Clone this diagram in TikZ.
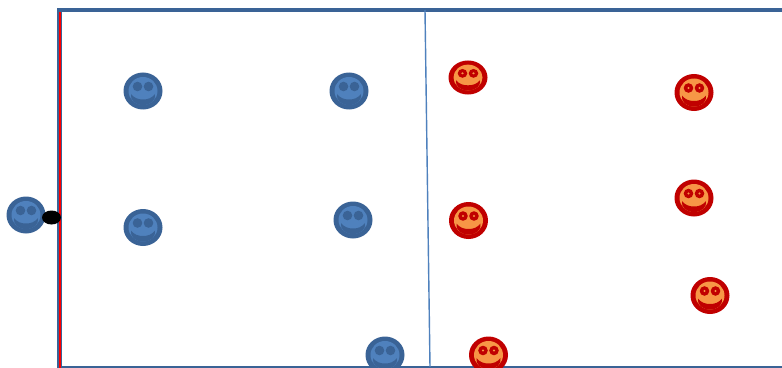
\documentclass[tikz,border=0pt]{standalone}
\usepackage{xcolor}
\definecolor{pitchblue}{HTML}{3A6396}
\definecolor{faceblue}{HTML}{4F81BD}
\definecolor{pitchred}{HTML}{C00000}
\definecolor{faceorange}{HTML}{F79646}
\definecolor{linered}{HTML}{FF0000}
\tikzset{
  pics/smiley/.style n args={3}{
    code={
      \fill[#1] (0,0) ellipse [x radius=19.5, y radius=18.5];
      \fill[#2] (0,0) ellipse [x radius=14.5, y radius=14];
      \fill[#1] (-5.5,-4.5) circle [radius=4.8];
      \fill[#1] (5.5,-4.5) circle [radius=4.8];
      \fill[#3] (-5.5,-4.5) circle [radius=1.2];
      \fill[#3] (5.5,-4.5) circle [radius=1.2];
      \fill[#1] (-12,3) .. controls (-9,7) and (-5,8.5) .. (0,8.5)
        .. controls (5,8.5) and (9,7) .. (12,3)
        .. controls (13,9) and (8,14) .. (0,14)
        .. controls (-8,14) and (-13,9) .. (-12,3);
    }
  },
}
\begin{document}
\begin{tikzpicture}[x=0.03cm,y=-0.03cm]
  \clip (0,0) rectangle (782,368);

  % Pitch outline
  \draw[pitchblue, line width=3.4pt] (57,10) -- (782,10);
  \draw[pitchblue, line width=2pt] (57,366.8) -- (782,366.8);
  \draw[faceblue, line width=1.2pt] (425,10) -- (430,367);
  \fill[pitchblue] (57,8) rectangle (62,368);
  \fill[linered] (58.6,12) rectangle (60.6,368);

  % Blue team
  \pic at (143,91) {smiley={pitchblue}{faceblue}{pitchblue}};
  \pic at (349,91) {smiley={pitchblue}{faceblue}{pitchblue}};
  \pic at (143,227.5) {smiley={pitchblue}{faceblue}{pitchblue}};
  \pic at (353,220) {smiley={pitchblue}{faceblue}{pitchblue}};
  \pic at (26,215) {smiley={pitchblue}{faceblue}{pitchblue}};
  \pic at (385,355) {smiley={pitchblue}{faceblue}{pitchblue}};

  % Red team
  \pic[yscale=0.92] at (468,77.5) {smiley={pitchred}{faceorange}{faceorange}};
  \pic at (694,92.5) {smiley={pitchred}{faceorange}{faceorange}};
  \pic at (694,198) {smiley={pitchred}{faceorange}{faceorange}};
  \pic at (468.5,220.5) {smiley={pitchred}{faceorange}{faceorange}};
  \pic at (710,295.5) {smiley={pitchred}{faceorange}{faceorange}};
  \pic at (488.5,355) {smiley={pitchred}{faceorange}{faceorange}};

  % Ball
  \fill[black] (51.5,217.5) ellipse [x radius=9.5, y radius=7];
\end{tikzpicture}
\end{document}
